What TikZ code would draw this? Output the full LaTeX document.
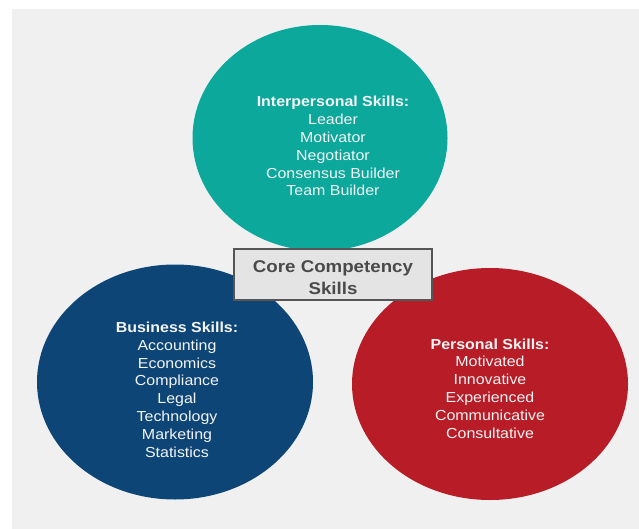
\documentclass[tikz,border=0pt]{standalone}
\usepackage{fontspec}
\setmainfont[FakeStretch=1.1]{Liberation Sans}
\usetikzlibrary{shapes.geometric}
\definecolor{panel}{HTML}{F0F0F0}
\definecolor{tealc}{HTML}{0BA89B}
\definecolor{bluec}{HTML}{0D4676}
\definecolor{redc}{HTML}{B71C27}
\definecolor{boxfill}{HTML}{E4E4E4}
\definecolor{boxline}{HTML}{555555}
\definecolor{boxtext}{HTML}{4A4A4A}
\definecolor{skillw}{HTML}{F4F4F4}
\tikzset{
  blob/.style={ellipse, inner sep=0pt, draw=none},
  skilltext/.style={align=center, text=skillw, font=\fontsize{14.5}{17.8}\selectfont, inner sep=0pt},
  corebox/.style={draw=boxline, line width=2pt, fill=boxfill, minimum width=198pt, minimum height=51pt,
    align=center, text=boxtext, font=\fontsize{17}{22}\selectfont\bfseries, inner sep=0pt}
}
\begin{document}
\begin{tikzpicture}[x=1pt,y=-1pt]
\useasboundingbox (0,0) rectangle (639,529);
\fill[white] (0,0) rectangle (639,529);
\fill[panel] (12,9) rectangle (639,529);
\node[blob, fill=tealc, minimum width=255pt, minimum height=226pt] (tealc) at (320,138) {};
\node[blob, fill=bluec, minimum width=276pt, minimum height=235pt] (bluec) at (175,382) {};
\node[blob, fill=redc, minimum width=276pt, minimum height=232pt] (redc) at (490,384) {};
\node[skilltext, anchor=base] (inter) at (333,196) {\textbf{Interpersonal Skills:}\\Leader\\Motivator\\Negotiator\\Consensus Builder\\Team Builder};
\node[skilltext, anchor=base] (bus) at (177,457) {\textbf{Business Skills:}\\Accounting\\Economics\\Compliance\\Legal\\Technology\\Marketing\\Statistics};
\node[skilltext, anchor=base] (pers) at (490,438) {\textbf{Personal Skills:}\\Motivated\\Innovative\\Experienced\\Communicative\\Consultative};
\node[corebox] (core) at (333,274) {};
\node[align=center, text=boxtext, font=\fontsize{17}{22}\selectfont\bfseries, inner sep=0pt, anchor=base] (coretext) at (333,294) {Core Competency\\Skills};
\end{tikzpicture}
\end{document}
